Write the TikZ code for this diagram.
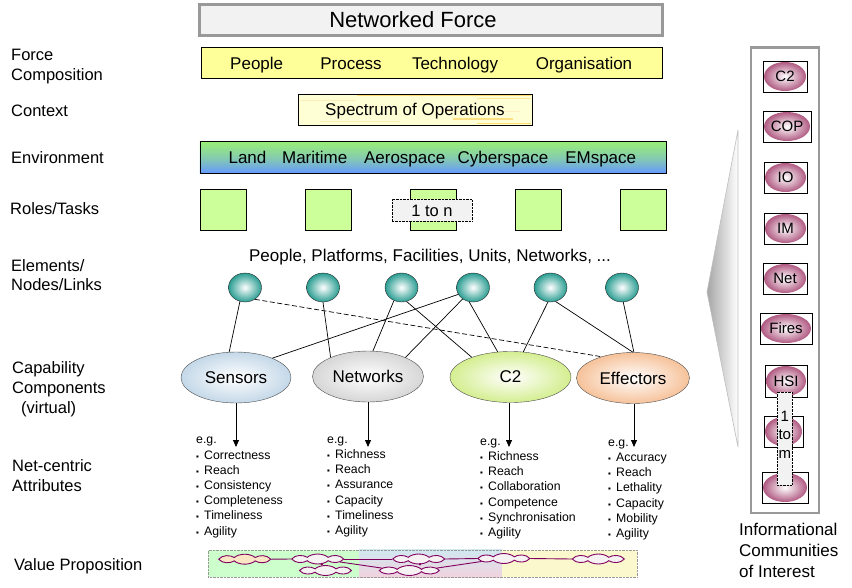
\documentclass[tikz,border=0pt]{standalone}
\usepackage{fontspec}
\setmainfont{Liberation Sans}
\usetikzlibrary{shapes.geometric,shapes.symbols,arrows.meta}
\definecolor{titlegray}{HTML}{F2F2F2}
\definecolor{bordgray}{HTML}{999999}
\definecolor{pyellow}{HTML}{FFFF99}
\definecolor{specy}{HTML}{FFFFD6}
\definecolor{speco}{HTML}{FFCC33}
\definecolor{envg}{HTML}{99EE77}
\definecolor{envb}{HTML}{6699FF}
\definecolor{sqg}{HTML}{CCFF99}
\definecolor{tealc}{HTML}{2A9D92}
\definecolor{sensc}{HTML}{C4D8E8}
\definecolor{netc}{HTML}{D6D6D6}
\definecolor{ctwoc}{HTML}{D4EE90}
\definecolor{effc}{HTML}{F6C29A}
\definecolor{pinkc}{HTML}{B05A82}
\definecolor{vpg}{HTML}{CCFFCC}
\definecolor{vpb}{HTML}{D2E8F0}
\definecolor{vpp}{HTML}{F0D2DE}
\definecolor{vpy}{HTML}{FAF8CC}
\definecolor{vpurple}{HTML}{800060}
\definecolor{cloudf}{HTML}{F6F2F4}
\definecolor{cloudp}{HTML}{FAE6C4}
\newcommand\bul{\makebox[8pt][l]{\fontsize{8}{8}\selectfont ▪}}
\begin{document}
\begin{tikzpicture}[x=1pt,y=-1pt,
  lab/.style={font=\fontsize{16.5}{20}\selectfont, anchor=base west, inner sep=0},
  tx/.style={font=\fontsize{17}{20}\selectfont, anchor=base, inner sep=0},
  sq/.style={draw, fill=sqg, minimum width=46.7pt, minimum height=41.7pt, inner sep=0},
  tnode/.style={ellipse, draw=black!85, inner color=white, outer color=tealc, minimum width=33pt, minimum height=29pt, inner sep=0},
  capell/.style={ellipse, draw=black!70, inner sep=0, minimum height=51pt, font=\fontsize{17}{20}\selectfont},
  conn/.style={line width=0.7pt},
  attr/.style={font=\fontsize{12.3}{15.2}\selectfont, align=left, anchor=north west, inner sep=0},
  arr/.style={line width=0.8pt, -{Triangle[length=7pt,width=6pt]}},
  dotbox/.style={draw, densely dotted, fill=titlegray, inner sep=0},
  ibox/.style={draw, rectangle, inner sep=0, line width=0.8pt},
  iell/.style={ellipse, inner sep=0, inner color=white, outer color=pinkc, font=\fontsize{15}{18}\selectfont},
  vpc/.style={cloud, cloud puffs=8, cloud puff arc=130, aspect=2.7, draw=vpurple, line width=0.9pt, fill=cloudf, minimum width=52pt, minimum height=20pt, inner sep=0pt, yscale=0.5},
  vpl/.style={draw=vpurple, line width=0.9pt}
]
\useasboundingbox (0,0) rectangle (852,587);

% ---------- left labels ----------
\node[lab] (lForce) at (11,60) {Force};
\node[lab] (lComp) at (11,80.7) {Composition};
\node[lab] (lCtx) at (11,116.7) {Context};
\node[lab] (lEnv) at (11,163.3) {Environment};
\node[lab] (lRoles) at (10,214.3) {Roles/Tasks};
\node[lab] (lElem) at (11,271.7) {Elements/};
\node[lab] (lNodes) at (11,290.7) {Nodes/Links};
\node[lab] (lCap) at (12,373.3) {Capability};
\node[lab] (lCmp) at (12,393.3) {Components};
\node[lab] (lVirt) at (21,413) {(virtual)};
\node[lab] (lNet) at (12,471.7) {Net-centric};
\node[lab] (lAttr) at (12,491.7) {Attributes};
\node[lab] (lVal) at (14,570) {Value Proposition};

% ---------- title ----------
\node[draw=bordgray, line width=3pt, fill=titlegray, minimum width=463pt, minimum height=31pt, inner sep=0] (title) at (430.5,20.4) {};
\node[tx, font=\fontsize{22}{26}\selectfont] (titletx) at (413,27.7) {Networked Force};

% ---------- force composition ----------
\node[draw, line width=0.9pt, fill=pyellow, minimum width=461pt, minimum height=30.6pt, inner sep=0] (fc) at (432.2,63) {};
\node[tx] (tPeople) at (256.7,69) {People};
\node[tx] (tProcess) at (351,69) {Process};
\node[tx] (tTech) at (455,69) {Technology};
\node[tx] (tOrg) at (584,69) {Organisation};

% ---------- context ----------
\node[draw, line width=0.9pt, fill=specy, minimum width=234.7pt, minimum height=31.7pt, inner sep=0] (spec) at (415.3,109.8) {};
\draw[speco!70, line width=1.2pt] (357,95.5) -- (531,95.5);
\draw[speco!50, line width=1pt] (477,98.5) -- (531,98.5);
\draw[speco!35, line width=1pt] (300,100.5) -- (356,100.5);
\draw[speco!30, line width=1pt] (330,106) -- (380,106);
\draw[speco!30, line width=1pt] (440,111) -- (520,111);
\draw[speco!60, line width=1.2pt] (453,119) -- (513,119);
\draw[speco!70, line width=1.2pt] (477,123.8) -- (531,123.8);
\draw[speco!35, line width=1pt] (320,121) -- (400,121);
\node[tx] (tSpec) at (415,115) {Spectrum of Operations};

% ---------- environment ----------
\node[draw, line width=0.9pt, top color=envg, bottom color=envb, middle color=envg!60!envb, minimum width=466.7pt, minimum height=31.6pt, inner sep=0] (env) at (433.3,157.5) {};
\node[tx] (tLand) at (247.5,163.3) {Land};
\node[tx] (tMar) at (314.7,163.3) {Maritime};
\node[tx] (tAero) at (404.7,163.3) {Aerospace};
\node[tx] (tCyber) at (503,163.3) {Cyberspace};
\node[tx] (tEM) at (600.7,163.3) {EMspace};

% ---------- roles / tasks ----------
\node[sq] (r1) at (223.3,209.8) {};
\node[sq] (r2) at (328.3,209.8) {};
\node[sq] (r3) at (433.3,209.8) {};
\node[sq] (r4) at (538.3,209.8) {};
\node[sq] (r5) at (643.3,209.8) {};
\node[dotbox, minimum width=80pt, minimum height=22pt] (oneton) at (431.7,210) {};
\node[tx, font=\fontsize{16.5}{20}\selectfont] (tOneton) at (432,216) {1 to n};

% ---------- elements ----------
\node[tx] (tElem) at (430,261.7) {People, Platforms, Facilities, Units, Networks, ...};
\node[tnode] (n1) at (245,287.5) {};
\node[tnode] (n2) at (323,287.5) {};
\node[tnode] (n3) at (401.5,287.5) {};
\node[tnode] (n4) at (473,287.5) {};
\node[tnode] (n5) at (550.5,287.5) {};
\node[tnode] (n6) at (622,287.5) {};

% ---------- capability components ----------
\node[capell, minimum width=110pt, inner color=white, outer color=sensc] (sens) at (236,377.5) {Sensors};
\node[capell, minimum width=111pt, inner color=white, outer color=netc] (net) at (368,376.5) {Networks};
\node[capell, minimum width=121pt, inner color=white, outer color=ctwoc] (ctwo) at (510.5,377) {C2};
\node[capell, minimum width=113pt, inner color=white, outer color=effc] (eff) at (633,378) {Effectors};

\draw[conn] (n1.250) -- (sens.105);
\draw[conn, dash pattern=on 5pt off 2.5pt] (n1.310) -- (eff.146);
\draw[conn] (n2.270) -- (net.153);
\draw[conn] (n3.240) -- (net.79);
\draw[conn] (n3.290) -- (ctwo.153);
\draw[conn] (n4.205) -- (sens.28);
\draw[conn] (n4.228) -- (net.27);
\draw[conn] (n4.255) -- (ctwo.117);
\draw[conn] (n5.260) -- (ctwo.63);
\draw[conn] (n5.290) -- (eff.90);
\draw[conn] (n6.275) -- (eff.88);

% ---------- attributes ----------
\coordinate (a1) at (236,447);
\coordinate (a2) at (368,447);
\coordinate (a3) at (509,447);
\coordinate (a4) at (634,447);
\draw[arr] (sens.south) -- (a1);
\draw[arr] (net.south) -- (a2);
\draw[arr] (ctwo.south -| a3) -- (a3);
\draw[arr] (eff.south -| a4) -- (a4);

\node[attr] (lsens) at (196,433) {\strut e.g.\\ \bul Correctness\\ \bul Reach\\ \bul Consistency\\ \bul Completeness\\ \bul Timeliness\\ \bul Agility};
\node[attr] (lnet) at (327,432.5) {\strut e.g.\\ \bul Richness\\ \bul Reach\\ \bul Assurance\\ \bul Capacity\\ \bul Timeliness\\ \bul Agility};
\node[attr] (lctwo) at (480,434.5) {\strut e.g.\\ \bul Richness\\ \bul Reach\\ \bul Collaboration\\ \bul Competence\\ \bul Synchronisation\\ \bul Agility};
\node[attr] (leff) at (608,435.5) {\strut e.g.\\ \bul Accuracy\\ \bul Reach\\ \bul Lethality\\ \bul Capacity\\ \bul Mobility\\ \bul Agility};

% ---------- value proposition ----------
\node[fill=vpg, minimum width=151pt, minimum height=27.3pt, inner sep=0] (vpA) at (283.5,563.6) {};
\node[top color=vpb, bottom color=vpp, minimum width=143pt, minimum height=27.3pt, inner sep=0] (vpB) at (430.5,563.6) {};
\node[fill=vpy, minimum width=135pt, minimum height=27.3pt, inner sep=0] (vpC) at (569.5,563.6) {};
\node[draw=bordgray, densely dotted, minimum width=428.4pt, minimum height=27.3pt, inner sep=0] (vpbox) at (422.5,563.6) {};

\coordinate (j1) at (321.7,565);
\coordinate (j2) at (420,565);
\node[vpc, fill=cloudp] (c1) at (244.7,559.2) {};
\node[vpc] (c2) at (317.7,559) {};
\node[vpc] (c3) at (325.5,570.5) {};
\node[vpc] (c4) at (418.7,559) {};
\node[vpc, minimum width=60pt] (c5) at (409.3,570.5) {};
\node[vpc] (c6) at (503.8,558.5) {};
\node[vpc] (c7) at (598.3,559) {};
\draw[vpl] (c1.east) -- (c2.west);
\draw[vpl] (c2.east) -- (c4.west);
\draw[vpl] (c4.east) -- (c6.west);
\draw[vpl] (c6.east) -- (c7.west);
\draw[vpl] (c2.-15) -- (c5.170);
\draw[vpl] (c5.10) -- (c6.195);
\draw[vpl] (c2.south -| j1) -- (c3.north -| j1);
\draw[vpl] (c4.south -| j2) -- (c5.north -| j2);
\fill[vpurple] (c2.south -| j1) circle (1.4pt);
\fill[vpurple] (c4.south -| j2) circle (1.4pt);

% ---------- right panel ----------
\coordinate (tp1) at (738,130);
\coordinate (tp2) at (707,292);
\coordinate (tp3) at (738,447);
\shade[left color=black!35, right color=white, draw=black!25, line width=0.6pt] (tp1) -- (tp2) -- (tp3) -- cycle;

\node[draw=bordgray, line width=1.6pt, fill=white, minimum width=68pt, minimum height=465pt, inner sep=0, anchor=north west] (panel) at (750,47) {};
\draw[bordgray, line width=3pt] (panel.north west) -- (panel.north east);

\node[iell, minimum width=42pt, minimum height=29pt] (eC2) at (785,76.5) {C2};
\node[ibox, minimum width=44pt, minimum height=31pt] (bC2) at (785,76.5) {};
\node[iell, minimum width=46pt, minimum height=29pt] (eCOP) at (787,126.5) {COP};
\node[ibox, minimum width=48pt, minimum height=31pt] (bCOP) at (787,126.5) {};
\node[iell, minimum width=41pt, minimum height=29pt] (eIO) at (785.5,177.5) {IO};
\node[ibox, minimum width=43pt, minimum height=31pt] (bIO) at (785.5,177.5) {};
\node[iell, minimum width=41pt, minimum height=29pt] (eIM) at (785.5,228.5) {IM};
\node[ibox, minimum width=43pt, minimum height=31pt] (bIM) at (785.5,228.5) {};
\node[iell, minimum width=42pt, minimum height=29pt] (eNet) at (785,278.5) {Net};
\node[ibox, minimum width=44pt, minimum height=31pt] (bNet) at (785,278.5) {};
\node[iell, minimum width=50pt, minimum height=29pt] (eFires) at (786,328.5) {Fires};
\node[ibox, minimum width=52pt, minimum height=31pt] (bFires) at (786,328.5) {};
\node[iell, minimum width=40pt, minimum height=30pt] (eHSI) at (786,381) {HSI};
\node[ibox, minimum width=42pt, minimum height=32pt] (bHSI) at (786,381) {};
\node[iell, minimum width=37pt, minimum height=29pt] (eX) at (783.5,431.5) {};
\node[ibox, minimum width=39pt, minimum height=31pt] (bX) at (783.5,431.5) {};
\node[iell, minimum width=44pt, minimum height=29pt] (eY) at (785,487.5) {};
\node[ibox, minimum width=46pt, minimum height=31pt] (bY) at (785,487.5) {};

\node[dotbox, minimum width=15pt, minimum height=93pt] (onetom) at (784.5,438.5) {};
\node[inner sep=0, align=center, font=\fontsize{15}{18.5}\selectfont, anchor=north] (tOnetom) at (784.8,408) {\strut 1\\to\\m};

\node[lab, font=\fontsize{17}{20}\selectfont] (tInf1) at (739,535) {Informational};
\node[lab, font=\fontsize{17}{20}\selectfont] (tInf2) at (739,556.5) {Communities};
\node[lab, font=\fontsize{17}{20}\selectfont] (tInf3) at (739,577.5) {of Interest};
\end{tikzpicture}
\end{document}
